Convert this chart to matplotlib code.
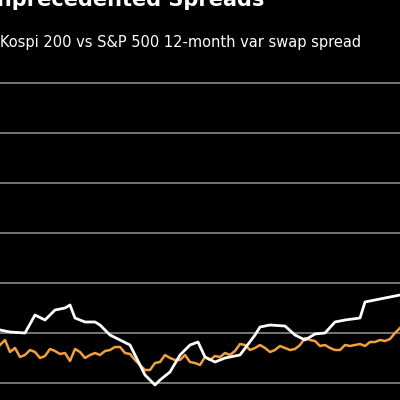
import matplotlib
matplotlib.use("Agg")
import matplotlib.pyplot as plt

white_x = [0,10,25,35,45,55,65,70,75,85,95,100,110,120,130,135,145,155,160,170,180,190,198,205,215,225,240,255,260,270,285,295,305,315,325,335,345,360,365,375,390,400]
white_y = [10.6,10.2,10.0,13.6,12.6,14.6,15.0,15.6,13.0,12.2,12.2,11.6,9.6,8.6,7.6,5.6,1.6,-0.4,0.6,2.2,5.6,7.6,8.2,5.2,4.2,5.0,5.6,9.6,11.2,11.6,11.4,9.6,8.6,9.8,10.0,12.2,12.6,13.0,16.2,16.6,17.2,17.6]
orange_x = [0,5,10,15,20,25,30,35,40,45,50,55,60,65,70,75,80,85,90,95,100,105,110,115,120,125,130,135,140,145,150,155,160,165,170,175,180,185,190,195,200,205,210,215,220,225,230,235,240,245,250,255,260,265,270,275,280,285,290,295,300,305,310,315,320,325,330,335,340,345,350,355,360,365,370,375,380,385,390,395,400]
orange_y = [7.6,8.6,6.2,7.0,5.2,5.6,6.6,6.2,5.0,5.4,6.8,6.4,5.8,6.0,4.4,6.8,6.2,5.0,5.6,6.0,5.6,6.4,6.6,7.2,7.2,6.0,5.8,4.6,3.6,2.6,2.6,4.0,4.2,5.6,5.0,4.6,4.6,5.6,4.2,4.0,3.6,5.2,4.6,5.4,5.2,6.0,5.6,6.4,7.8,7.6,6.6,7.0,7.6,7.0,6.2,6.6,7.4,7.0,6.6,6.8,7.6,9.0,8.6,8.4,7.4,7.6,7.0,6.6,6.6,7.6,7.4,7.6,7.8,7.4,8.2,8.2,8.6,8.4,8.8,10.0,11.0]
gridlines = [0,10,20,30,40,50,60]

fig = plt.figure(figsize=(4,4), dpi=100, facecolor="black")
ax = fig.add_axes([0,0,1,1], facecolor="black")
for g in gridlines:
    ax.axhline(g, color="#8a8a8a", lw=1.2, zorder=1)
ax.plot(white_x, white_y, color="white", lw=2, zorder=3)
ax.plot(orange_x, orange_y, color="#f0a03c", lw=1.8, zorder=2)
ax.set_xlim(0,400)
ax.set_ylim(-3.4,76.6)
ax.axis("off")
fig.text(-0.05, 1.0, "Unprecedented Spreads", color="white", fontsize=15, fontweight="bold", va="center", ha="left")
fig.text(0.0, 0.895, "Kospi 200 vs S&P 500 12-month var swap spread", color="white", fontsize=10.5, va="center", ha="left")
fig.savefig("out.png", facecolor="black")
